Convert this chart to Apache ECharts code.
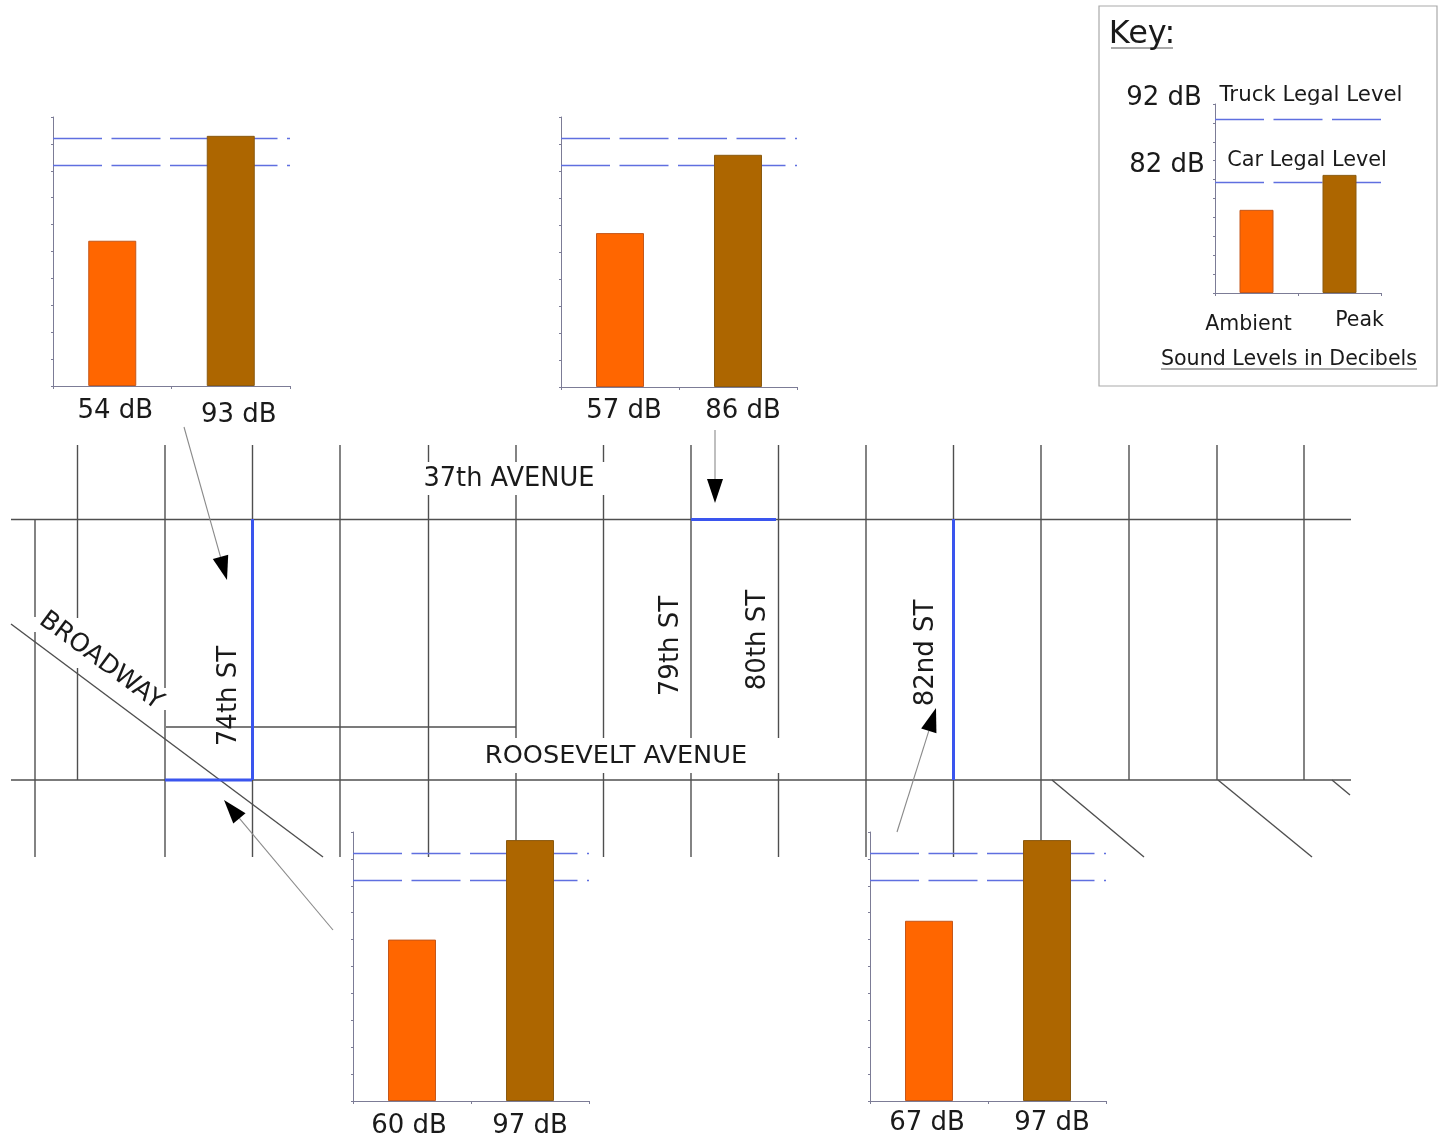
<!DOCTYPE html>
<html>
<head>
<meta charset="utf-8">
<style>html,body{margin:0;padding:0;background:#fff}#c{width:1438px;height:1142px}</style>
<script src="https://cdn.jsdelivr.net/npm/echarts@6/dist/echarts.min.js"></script>
</head>
<body>
<div id="c"></div>
<script>
// ---- Data (decibels) ----
const labels74thNorth = ['54 dB', '93 dB'];
const values74thNorth = [54, 93];
const labels80thSt = ['57 dB', '86 dB'];
const values80thSt = [57, 86];
const labelsBroadway = ['60 dB', '97 dB'];
const valuesBroadway = [60, 97];
const labels82ndSt = ['67 dB', '97 dB'];
const values82ndSt = [67, 97];
const keyCategories = ['Ambient', 'Peak'];
const keyValues = [44, 62.5];
const truckLegalLevel = 92;
const carLegalLevel = 82;
const keyCarLinePosition = 58.7; // the key is schematic: its car line sits lower than 82

// ---- Layout ----
const FONT = '"DejaVu Sans", Verdana, sans-serif';
const AXIS = '#7c7c96', STREET = '#4f4f4f', BLUE = '#3a55ee', DASH = '#5f6fe0', INK = '#1a1a1a';
const panels = [
  {name: '74th St', cats: labels74thNorth, vals: values74thNorth, left: 53, top: 117, w: 237, h: 269, bw: 48, shift: [[3, 0], [8, 2]], lines: [truckLegalLevel, carLegalLevel], fs: 26, margin: 12},
  {name: '80th St', cats: labels80thSt, vals: values80thSt, left: 561, top: 117, w: 236, h: 270, bw: 48, shift: [[4, 0], [5, 0]], lines: [truckLegalLevel, carLegalLevel], fs: 26, margin: 11},
  {name: 'Broadway', cats: labelsBroadway, vals: valuesBroadway, left: 353, top: 832, w: 236, h: 269, bw: 48, shift: [[-3, 0], [0, 0]], lines: [truckLegalLevel, carLegalLevel], fs: 26, margin: 12},
  {name: '82nd St', cats: labels82ndSt, vals: values82ndSt, left: 870, top: 832, w: 236, h: 269, bw: 48, shift: [[-2, 0], [5, 0]], lines: [truckLegalLevel, carLegalLevel], fs: 26, margin: 9},
  {name: 'Key', cats: keyCategories, vals: keyValues, left: 1215, top: 104, w: 166, h: 189, bw: 34, shift: [[-8, 2], [20, -1]], lines: [truckLegalLevel, keyCarLinePosition], fs: 20.5, margin: 17}
];

// ---- Street map furniture: [x, fromY, toY] ----
const streetSegments = [
  [35, 519, 617], [35, 632, 857],
  [77.5, 445, 618], [77.5, 668, 780],
  [165, 445, 688], [165, 710, 857],
  [252.5, 445, 857], [340, 445, 857],
  [428.5, 445, 462], [428.5, 495, 857],
  [516, 445, 462], [516, 495, 738], [516, 773, 842],
  [603.5, 445, 462], [603.5, 495, 738], [603.5, 773, 857],
  [691, 445, 738], [691, 773, 857],
  [778.5, 445, 738], [778.5, 773, 857],
  [866, 445, 857], [953.5, 445, 857],
  [1041, 445, 842], [1129, 445, 780], [1217, 445, 780], [1304, 445, 780]
];
const plainLines = [
  [11, 519.5, 1351, 519.5], [11, 780, 1351, 780], [166, 727, 516, 727],
  [11, 624, 323, 857], [1052, 780, 1144, 857], [1218, 780, 1312, 857], [1332, 780, 1350, 795]
];
const blueLines = [[252.5, 519, 252.5, 780], [165, 780, 252, 780], [691, 519.5, 776, 519.5], [953.5, 519, 953.5, 780]];
const arrows = [[184, 427, 227, 580], [715, 430, 715, 503], [333, 930, 224, 800], [897, 832, 936, 708]];
const mapTexts = [
  ['37th AVENUE', 509, 479.5, 25.7, 0], ['ROOSEVELT AVENUE', 616, 756, 25.6, 0],
  ['BROADWAY', 101, 661, 25.5, -36.5],
  ['74th ST', 229.5, 696, 26, 90], ['79th ST', 671.5, 646, 26, 90], ['80th ST', 758.5, 640, 26, 90], ['82nd ST', 926.5, 653, 26, 90],
  ['Key:', 1142, 35, 32, 0], ['92 dB', 1164, 98.5, 26, 0], ['82 dB', 1167, 165.5, 26, 0],
  ['Truck Legal Level', 1311, 95, 21.3, 0], ['Car Legal Level', 1307, 161, 20.8, 0],
  ['Sound Levels in Decibels', 1289, 360, 20.6, 0]
];
const underlines = [[1111, 48, 1173, 48], [1161, 369, 1417, 369]];

const line = (a, stroke, width) => ({type: 'line', z: 0, silent: true,
  shape: {x1: a[0], y1: a[1], x2: a[2], y2: a[3]}, style: {stroke, lineWidth: width}});

const graphics = [];
graphics.push({type: 'rect', z: 0, silent: true, shape: {x: 1099, y: 6, width: 338, height: 380},
  style: {fill: '#fff', stroke: '#a9a9a9', lineWidth: 1.2}});
streetSegments.forEach(s => graphics.push(line([s[0], s[1], s[0], s[2]], STREET, 1.4)));
plainLines.forEach(l => graphics.push(line(l, STREET, 1.4)));
blueLines.forEach(l => graphics.push(line(l, BLUE, 3)));
underlines.forEach(l => graphics.push(line(l, '#555', 1)));
arrows.forEach(a => {
  const dx = a[2] - a[0], dy = a[3] - a[1], n = Math.hypot(dx, dy), ux = dx / n, uy = dy / n;
  const bx = a[2] - ux * 24, by = a[3] - uy * 24;
  graphics.push(line([a[0], a[1], bx, by], '#8a8a8a', 1.1));
  graphics.push({type: 'polygon', z: 1, silent: true,
    shape: {points: [[a[2], a[3]], [bx - uy * 8, by + ux * 8], [bx + uy * 8, by - ux * 8]]},
    style: {fill: '#000'}});
});
mapTexts.forEach(t => graphics.push({type: 'text', z: 3, silent: true,
  x: t[1], y: t[2], rotation: t[4] * Math.PI / 180,
  style: {text: t[0], x: 0, y: 0, fill: INK, font: t[3] + 'px ' + FONT, align: 'center', verticalAlign: 'middle'}}));

const option = {
  animation: false,
  backgroundColor: '#fff',
  graphic: {elements: graphics},
  grid: panels.map(p => ({left: p.left, top: p.top, width: p.w, height: p.h, containLabel: false})),
  xAxis: panels.map((p, i) => ({
    type: 'category', gridIndex: i, boundaryGap: true,
    data: p.cats.map((c, k) => {
      const dx = p.shift[k][0], dy = p.shift[k][1];
      return {value: c, textStyle: {padding: [Math.max(dy, 0) * 2, Math.max(-dx, 0) * 2, Math.max(-dy, 0) * 2, Math.max(dx, 0) * 2]}};
    }),
    axisLine: {lineStyle: {color: AXIS, width: 1}},
    axisTick: {show: true, length: 3, lineStyle: {color: AXIS}},
    axisLabel: {interval: 0, hideOverlap: false, margin: p.margin, color: INK, fontFamily: FONT, fontSize: p.fs, lineHeight: p.fs}
  })),
  yAxis: panels.map((p, i) => ({
    type: 'value', gridIndex: i, min: 0, max: 100, interval: 10,
    axisLine: {show: true, lineStyle: {color: AXIS, width: 1}},
    axisTick: {show: true, length: 2, lineStyle: {color: AXIS}},
    axisLabel: {show: false},
    splitLine: {show: false}
  })),
  series: panels.map((p, i) => ({
    name: p.name, type: 'bar', xAxisIndex: i, yAxisIndex: i, barWidth: p.bw, z: 3,
    data: p.vals.map((v, k) => ({value: v, itemStyle: {
      color: k === 0 ? '#FF6600' : '#AD6600', borderColor: k === 0 ? '#c4571a' : '#8a5a10', borderWidth: 1}})),
    markLine: {
      silent: true, symbol: 'none', label: {show: false}, z: 2,
      lineStyle: {color: DASH, width: 1.3, type: [49, 9.5], opacity: 1},
      data: p.lines.map(v => ({yAxis: v}))
    }
  }))
};
echarts.init(document.getElementById('c'), null, {renderer: 'canvas'}).setOption(option);
</script>
</body>
</html>
